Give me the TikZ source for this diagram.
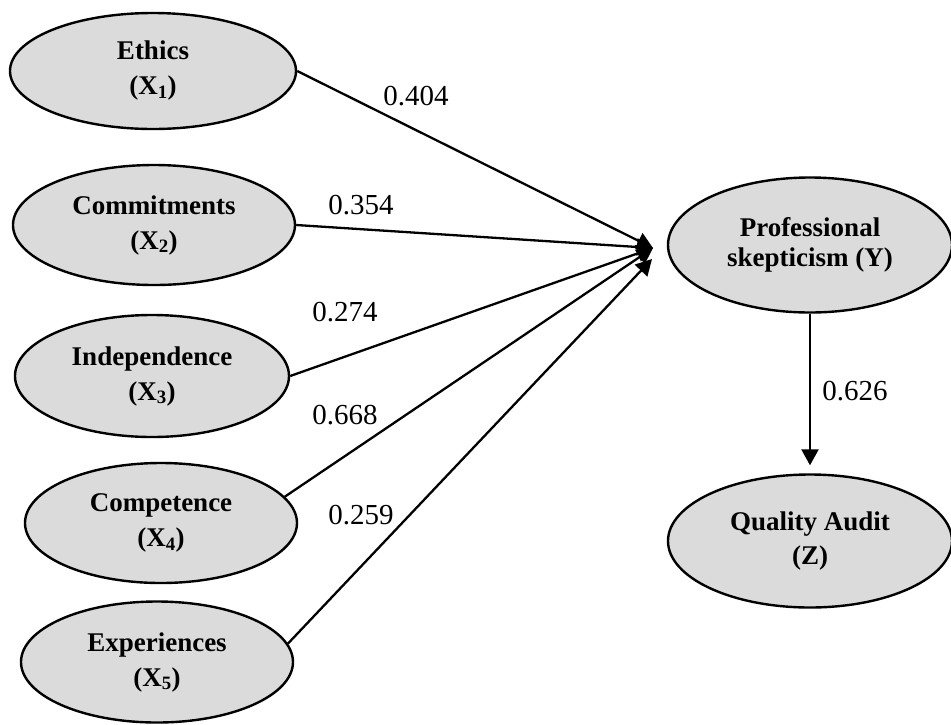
\documentclass[tikz,border=0pt]{standalone}
\usepackage{fontspec}
\setmainfont{Liberation Serif}
\usetikzlibrary{shapes.geometric,arrows.meta}

\tikzset{
  latente/.style={ellipse, draw, line width=2.4pt, fill=black!14,
    inner sep=0pt, align=center,
    font=\bfseries\fontsize{27}{35}\selectfont},
  camino/.style={line width=2.3pt, -{Triangle[length=16pt,width=17pt]}},
  peso/.style={inner sep=0pt, font=\fontsize{29}{29}\selectfont}
}

\begin{document}
\begin{tikzpicture}[x=1pt,y=-1pt]
\begin{scope}
    \useasboundingbox[fill=white] (0,0) rectangle (951,724);

    %——————————————————————————————————————————————
    % Variables exogenas (X1 ... X5)
    %——————————————————————————————————————————————
    \node[latente, minimum width=286pt, minimum height=116pt] (eth) at (153,71)  {Ethics\\(X\textsubscript{1})};
    \node[latente, minimum width=282pt, minimum height=120pt] (com) at (154,225) {Commitments\\(X\textsubscript{2})};
    \node[latente, minimum width=274pt, minimum height=122pt] (ind) at (152,376) {Independence\\(X\textsubscript{3})};
    \node[latente, minimum width=272pt, minimum height=120pt] (cmp) at (161,523) {Competence\\(X\textsubscript{4})};
    \node[latente, minimum width=272pt, minimum height=121pt] (exp) at (157,662) {Experiences\\(X\textsubscript{5})};

    %——————————————————————————————————————————————
    % Variables endogenas (Y, Z)
    %——————————————————————————————————————————————
    \node[latente, minimum width=284pt, minimum height=135pt,
          font=\bfseries\fontsize{27}{30}\selectfont] (psk) at (810,245) {Professional\\skepticism (Y)};
    \node[latente, minimum width=284pt, minimum height=133pt,
          font=\bfseries\fontsize{27}{34}\selectfont] (qau) at (810,541) {Quality Audit\\(Z)};

    % Puntas de las flechas frente a Y
    \coordinate (tipa) at (653,248);
    \coordinate (tipb) at (652,259);

    %——————————————————————————————————————————————
    % Caminos X -> Y y Y -> Z
    %——————————————————————————————————————————————
    \draw[camino] (eth.east) -- (tipa);
    \draw[camino] (com.east) -- (tipa);
    \draw[camino] (ind.east) -- (tipa);
    \draw[camino] (cmp.12)   -- (tipa);
    \draw[camino] (exp.8)    -- (tipb);
    \draw[camino, shorten >=8pt] (psk.south) -- (qau.north);

    %——————————————————————————————————————————————
    % Coeficientes de los caminos
    %——————————————————————————————————————————————
    \node[peso] (w1) at (416,96)  {0.404};
    \node[peso] (w2) at (361,205) {0.354};
    \node[peso] (w3) at (345,312) {0.274};
    \node[peso] (w4) at (345,415) {0.668};
    \node[peso] (w5) at (361,515) {0.259};
    \node[peso] (w6) at (855,391) {0.626};
\end{scope}
\end{tikzpicture}
\end{document}
